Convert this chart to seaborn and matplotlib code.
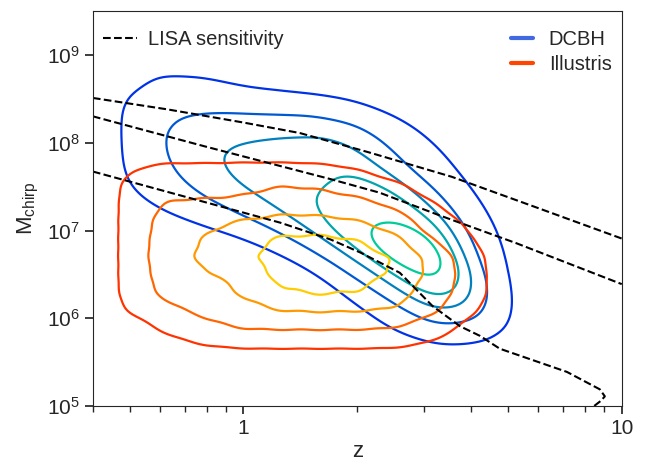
import matplotlib
matplotlib.use("Agg")

import numpy as np
import matplotlib.pyplot as plt
import seaborn as sns
from matplotlib.lines import Line2D
from matplotlib.ticker import NullLocator, NullFormatter

sns.set_style("ticks")
plt.rcParams['font.family'] = ['Liberation Sans', 'DejaVu Sans']
plt.rcParams['mathtext.fontset'] = 'custom'
plt.rcParams['mathtext.rm'] = 'Liberation Sans'
plt.rcParams['mathtext.it'] = 'Liberation Sans:italic'

# DCBH merger density, binned in log10(z) x log10(Mchirp)
dcbh_logz = [-0.4, -0.3, -0.2, -0.1, 0.0, 0.1, 0.2, 0.3, 0.4, 0.5, 0.6, 0.7, 0.8]
dcbh_logm = [8.9, 8.7, 8.5, 8.3, 8.1, 7.9, 7.7, 7.5, 7.3, 7.1, 6.9, 6.7, 6.5, 6.3, 6.1, 5.9, 5.7]
dcbh_weight = [
    [0, 0.1, 0.3, 0.3, 0.15, 0.05, 0, 0, 0, 0, 0, 0, 0],
    [0, 0.45, 1.1, 0.95, 0.5, 0.32, 0.2, 0.05, 0, 0, 0, 0, 0],
    [0.08, 0.85, 1.4, 1.4, 1.2, 1.05, 0.9, 0.65, 0.1, 0, 0, 0, 0],
    [0.1, 0.95, 1.6, 1.7, 1.72, 1.72, 1.72, 1.5, 0.9, 0.3, 0, 0, 0],
    [0.1, 0.95, 1.85, 2.3, 2.5, 2.6, 2.7, 2.2, 1.3, 0.6, 0.1, 0, 0],
    [0.1, 0.95, 1.85, 2.45, 2.8, 3.0, 3.1, 2.8, 1.7, 0.95, 0.3, 0, 0],
    [0.1, 0.95, 1.7, 2.4, 2.9, 3.0, 3.1, 3.2, 2.0, 1.2, 0.5, 0, 0],
    [0.08, 0.85, 1.45, 2.0, 2.65, 3.0, 3.2, 3.6, 3.3, 1.7, 0.75, 0.1, 0],
    [0, 0.5, 1.1, 1.6, 2.15, 2.8, 3.4, 3.9, 3.9, 2.3, 1.0, 0.25, 0],
    [0, 0, 0.5, 1.1, 1.55, 2.2, 3.2, 4.0, 4.3, 3.6, 1.3, 0.4, 0.05],
    [0, 0, 0, 0.1, 0.7, 1.5, 2.4, 4.0, 5.2, 4.9, 1.5, 0.5, 0.1],
    [0, 0, 0, 0, 0, 0.65, 1.65, 2.7, 5.3, 5.8, 1.8, 0.6, 0.1],
    [0, 0, 0, 0, 0, 0, 0.65, 2.0, 3.1, 5.0, 2.4, 0.6, 0.1],
    [0, 0, 0, 0, 0, 0, 0.4, 1.13, 2.33, 4.0, 2.6, 0.6, 0.1],
    [0, 0, 0, 0, 0, 0, 0, 0.6, 1.4, 2.7, 2.2, 0.6, 0.1],
    [0, 0, 0, 0, 0, 0, 0, 0.27, 0.93, 1.7, 1.4, 0.5, 0.05],
    [0, 0, 0, 0, 0, 0, 0, 0, 0.4, 0.75, 0.6, 0.2, 0],
]

# Illustris merger density, same binning
ill_logz = [-0.4, -0.3, -0.2, -0.1, 0.0, 0.1, 0.2, 0.3, 0.4, 0.5, 0.6, 0.7]
ill_logm = [7.9, 7.7, 7.5, 7.3, 7.1, 6.9, 6.7, 6.5, 6.3, 6.1, 5.9, 5.7, 5.5]
ill_weight = [
    [0, 0.15, 0.25, 0.3, 0.3, 0.3, 0.25, 0.15, 0.05, 0, 0, 0],
    [0, 0.85, 1.25, 1.2, 1.25, 1.25, 1.2, 0.9, 0.5, 0.2, 0, 0],
    [0, 1.2, 1.65, 1.55, 1.6, 1.9, 1.8, 1.5, 1.05, 0.55, 0.1, 0],
    [0, 1.25, 1.95, 2.0, 2.15, 2.55, 2.4, 2.2, 1.67, 0.9, 0.4, 0.08],
    [0, 1.25, 2.35, 2.8, 3.05, 3.25, 3.25, 3.0, 2.5, 1.35, 0.75, 0.15],
    [0, 1.25, 2.5, 2.95, 3.5, 4.05, 4.1, 3.9, 3.2, 1.8, 0.9, 0.2],
    [0, 1.25, 2.65, 3.15, 3.7, 4.4, 4.6, 4.4, 3.9, 2.7, 1.3, 0.2],
    [0, 1.25, 2.45, 2.8, 3.35, 4.2, 4.5, 4.3, 3.8, 2.7, 1.4, 0.2],
    [0, 1.25, 2.25, 2.6, 3.0, 3.8, 4.05, 3.9, 3.4, 2.5, 1.4, 0.2],
    [0, 1.05, 1.65, 2.2, 2.7, 3.05, 3.1, 3.05, 2.95, 2.1, 1.0, 0.2],
    [0, 0.45, 1.1, 1.6, 2.0, 2.0, 2.0, 2.0, 1.9, 1.3, 0.6, 0.1],
    [0, 0.2, 0.6, 0.95, 1.1, 1.1, 1.1, 1.1, 1.05, 0.75, 0.35, 0.05],
    [0, 0.02, 0.1, 0.12, 0.15, 0.15, 0.15, 0.15, 0.15, 0.1, 0.05, 0],
]

dcbh_levels = [0.1, 0.31, 0.535, 0.76, 0.93]
ill_levels = [0.09, 0.3, 0.59, 0.84]

# LISA sensitivity curves
lisa_a_z = [0.40, 0.63, 1.0, 1.41, 2.14, 3.55, 5.89, 10.0]
lisa_a_m = [3.24e8, 2.4e8, 1.7e8, 1.29e8, 7.8e7, 4.1e7, 1.86e7, 8.1e6]
lisa_b_z = [0.40, 0.79, 1.70, 2.29, 3.31, 5.25, 10.0]
lisa_b_m = [2.0e8, 9.1e7, 3.85e7, 2.7e7, 1.48e7, 7.2e6, 2.45e6]
lisa_c_z = [0.40, 1.25, 1.70, 2.04, 2.59, 3.16, 3.74, 4.22, 4.76, 7.16, 8.75, 9.02, 8.81, 8.32]
lisa_c_m = [4.7e7, 1.23e7, 7.9e6, 5.6e6, 3.3e6, 1.38e6, 8.1e5, 6.3e5, 4.5e5, 2.45e5,
            1.55e5, 1.29e5, 1.15e5, 9.5e4]

x_ticks = [1, 10]
x_ticklabels = ["1", "10"]

dcbh_colors = [(0, 0.2, 0.9), (0, 0.35, 0.825), (0, 0.5, 0.75), (0, 0.65, 0.675), (0, 0.8, 0.6)]
ill_colors = [(1, 0.2, 0), (1, 0.4, 0), (1, 0.6, 0), (1, 0.8, 0)]


def binned_sample(logz, logm, weight):
    z, m, w = [], [], []
    for lm, row in zip(logm, weight):
        for lz, wt in zip(logz, row):
            if wt > 0:
                z.append(10 ** lz)
                m.append(10 ** lm)
                w.append(wt)
    return z, m, w


fig, ax = plt.subplots(figsize=(6.45, 4.63), dpi=100)
fig.subplots_adjust(left=0.144, right=0.964, top=0.976, bottom=0.123)

dz, dm, dw = binned_sample(dcbh_logz, dcbh_logm, dcbh_weight)
sns.kdeplot(x=dz, y=dm, weights=dw, log_scale=True,
            levels=dcbh_levels, colors=dcbh_colors, linewidths=1.6,
            bw_method=0.26, ax=ax)

iz, im, iw = binned_sample(ill_logz, ill_logm, ill_weight)
sns.kdeplot(x=iz, y=im, weights=iw, log_scale=True,
            levels=ill_levels, colors=ill_colors, linewidths=1.6,
            bw_method=0.21, ax=ax)

for zz, mm in [(lisa_a_z, lisa_a_m), (lisa_b_z, lisa_b_m), (lisa_c_z, lisa_c_m)]:
    sns.lineplot(x=zz, y=mm, sort=False, estimator=None, color='k',
                 linestyle='--', linewidth=1.5, legend=False, ax=ax)

ax.set_xscale('log')
ax.set_yscale('log')
ax.set_xlim(0.4, 10)
ax.set_ylim(1e5, 10 ** 9.5)
ax.set_xticks(x_ticks)
ax.set_xticklabels(x_ticklabels)
ax.xaxis.set_minor_formatter(NullFormatter())
ax.yaxis.set_minor_locator(NullLocator())

ax.tick_params(which='major', length=6, width=1.25, labelsize=15)
ax.tick_params(which='minor', length=4, width=1)

ax.set_xlabel("z", fontsize=16, labelpad=2)
ax.set_ylabel("M$_{\\rm chirp}$", fontsize=16)

lisa_leg = ax.legend(handles=[Line2D([], [], color='k', linestyle='--', lw=1.5)],
                     labels=["LISA sensitivity"], loc='upper left',
                     bbox_to_anchor=(0, 0.977), frameon=False, fontsize=14.5,
                     handlelength=1.7, handletextpad=0.55,
                     borderaxespad=0.2, borderpad=0.3)
ax.add_artist(lisa_leg)
ax.legend(handles=[Line2D([], [], color='royalblue', lw=3),
                   Line2D([], [], color='orangered', lw=3)],
          labels=["DCBH", "Illustris"], loc='upper right',
          bbox_to_anchor=(1, 0.977), frameon=False, fontsize=14.5,
          handlelength=1.1, labelspacing=0.3, borderaxespad=0.2, borderpad=0.3)

plt.savefig("out.png", dpi=100)
plt.close()
